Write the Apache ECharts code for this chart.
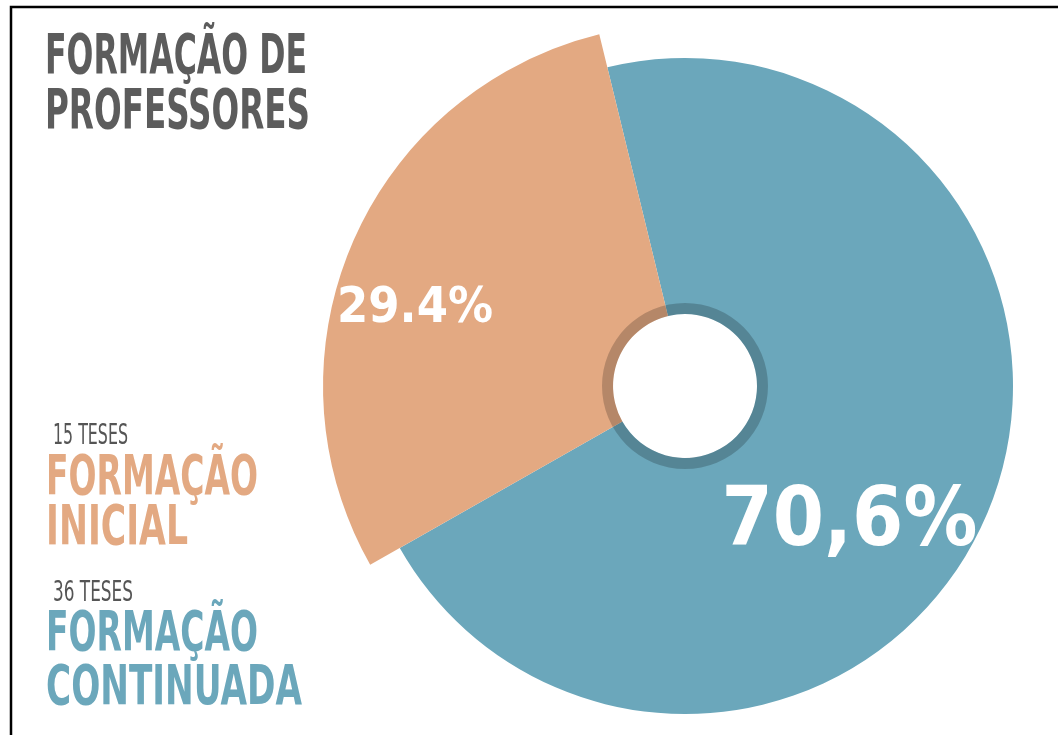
<!DOCTYPE html>
<html>
<head>
<meta charset="utf-8">
<script src="https://cdn.jsdelivr.net/npm/echarts@6/dist/echarts.min.js"></script>
<style>
  html, body { margin: 0; padding: 0; background: #fff; }
  #chart { width: 1058px; height: 735px; }
</style>
</head>
<body>
<div id="chart"></div>
<script>
const categories = ['Formação continuada', 'Formação inicial'];
const theses = [36, 15];
const percentLabels = ['70,6%', '29.4%'];
const legendCounts = ['36 TESES', '15 TESES'];
const legendNames = [['FORMAÇÃO', 'CONTINUADA'], ['FORMAÇÃO', 'INICIAL']];

const BLUE = '#6ba7bb';
const ORANGE = '#e3a982';
const colors = [BLUE, ORANGE];
const FONT = '"Liberation Sans Narrow", "DejaVu Sans Condensed", sans-serif';

const chart = echarts.init(document.getElementById('chart'));

// label nudges relative to the default "inside" position
const labelShift = [[-22, 57], [-68, 10]];
const labelSize = [82, 50];

// one pie per slice so the orange one can stick out further
function sliceSeries(idx, outer) {
  return {
    type: 'pie',
    center: [685, 386],
    radius: [72, outer],
    startAngle: 103.7,
    silent: true,
    animation: false,
    labelLine: { show: false },
    labelLayout: p => ({ dx: labelShift[p.dataIndex][0], dy: labelShift[p.dataIndex][1] }),
    data: categories.map((name, i) => ({
      name,
      value: theses[i],
      itemStyle: { color: i === idx ? colors[i] : 'rgba(0,0,0,0)' },
      label: {
        show: i === idx,
        position: 'inside',
        formatter: percentLabels[i],
        color: '#fff',
        fontFamily: FONT,
        fontWeight: 'bold',
        fontSize: labelSize[i]
      }
    }))
  };
}

// squeeze text horizontally to mimic the condensed poster font
const measureCtx = document.createElement('canvas').getContext('2d');
function txt(text, x, y, size, color, width, weight) {
  const font = (weight || 'bold') + ' ' + size + 'px ' + FONT;
  measureCtx.font = font;
  const sx = width / measureCtx.measureText(text).width;
  return {
    type: 'text',
    x, y,
    scaleX: sx,
    silent: true,
    style: { text, x: 0, y: 0, fill: color, font, textVerticalAlign: 'top' }
  };
}

const graphics = [
  { type: 'rect', silent: true, shape: { x: 11, y: 7, width: 1200, height: 900 },
    style: { fill: 'none', stroke: '#000', lineWidth: 2.5 } },
  txt('FORMAÇÃO DE', 45, 30, 56, '#5c5c5c', 262),
  txt('PROFESSORES', 45, 85, 56, '#5c5c5c', 265),
  txt(legendCounts[1], 53, 423, 28, '#555', 75, 'normal'),
  txt(legendNames[1][0], 46, 452, 55, ORANGE, 212),
  txt(legendNames[1][1], 46, 502, 55, ORANGE, 142),
  txt(legendCounts[0], 53, 580, 28, '#555', 80, 'normal'),
  txt(legendNames[0][0], 46, 608, 55, BLUE, 212),
  txt(legendNames[0][1], 46, 662, 55, BLUE, 256)
];

chart.setOption({
  backgroundColor: '#fff',
  animation: false,
  series: [
    sliceSeries(0, 328),
    sliceSeries(1, 362),
    {
      type: 'pie',
      center: [685, 386],
      radius: [72, 83],
      silent: true,
      animation: false,
      label: { show: false },
      labelLine: { show: false },
      data: [{ value: 1, itemStyle: { color: 'rgba(0,0,0,0.2)' } }]
    }
  ],
  graphic: graphics
});
</script>
</body>
</html>
